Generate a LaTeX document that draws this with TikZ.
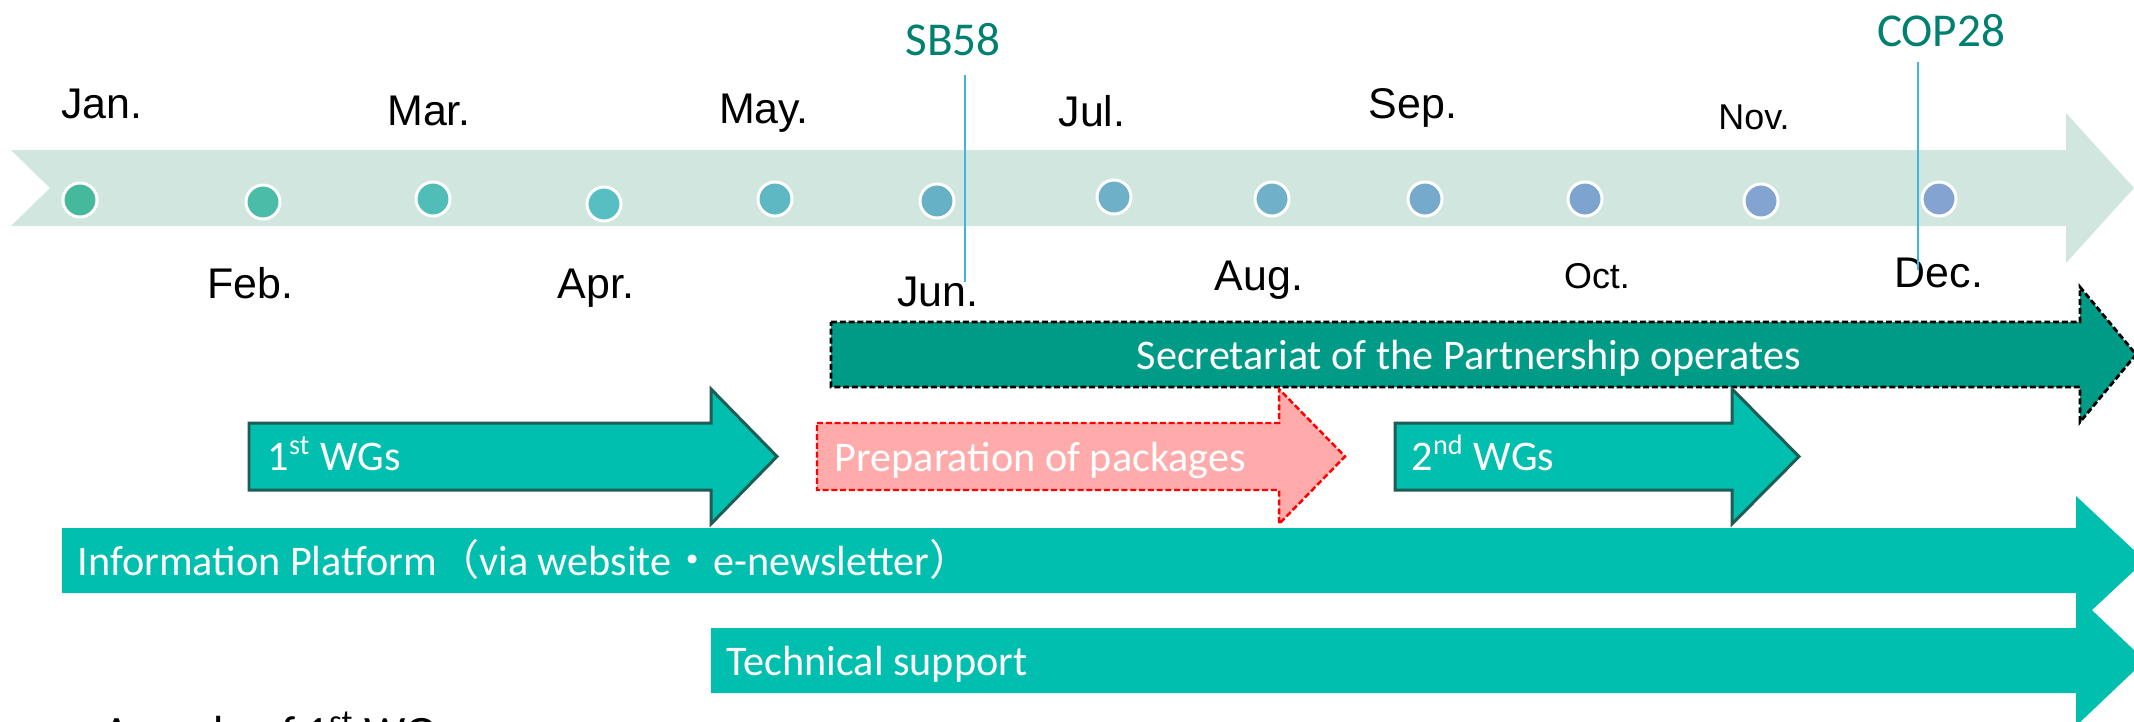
\documentclass[tikz,border=0pt]{standalone}
\usepackage{fontspec}
\setmainfont{Carlito}
\newfontfamily\monthfont{Liberation Sans}
\newfontfamily\cjk{Noto Sans CJK JP}
\usetikzlibrary{positioning,calc}
\definecolor{bandgreen}{RGB}{208,230,222}
\definecolor{secgreen}{RGB}{0,155,135}
\definecolor{wgteal}{RGB}{0,191,174}
\definecolor{wgedge}{RGB}{30,92,86}
\definecolor{preppink}{RGB}{255,171,171}
\definecolor{eventtxt}{RGB}{0,128,110}
\definecolor{eventline}{RGB}{64,180,220}
\tikzset{mdot/.style={circle, draw=white, line width=0.85pt, minimum size=0.34cm, inner sep=0}}
\tikzset{month/.style={inner sep=0, anchor=base, font={\monthfont\fontsize{12.2}{14}\selectfont}}}
\tikzset{monthsm/.style={month, font={\monthfont\fontsize{10.2}{12}\selectfont}}}
\tikzset{event/.style={inner sep=0, anchor=base, text=eventtxt, font={\fontsize{13.4}{15}\selectfont}}}
\tikzset{evline/.style={draw=eventline, line width=0.7pt}}
\tikzset{secbar/.style={fill=secgreen, draw=black, line width=0.8pt, dash pattern=on 1.7pt off 0.8pt}}
\tikzset{wgbar/.style={fill=wgteal, draw=wgedge, line width=0.85pt}}
\tikzset{prepbar/.style={fill=preppink, draw=red, line width=0.7pt, dash pattern=on 1.7pt off 0.8pt}}
\tikzset{platbar/.style={fill=wgteal}}
\tikzset{bartext/.style={inner sep=0, anchor=base west, text=white, font={\fontsize{12}{14}\selectfont}}}
% block arrow: [style] x0, x of head, x of tip, top, bottom, head extension
\newcommand{\garrow}[7][]{%
  \path[#1] (#2,#5) -- (#3,#5) -- (#3,#5-#7) -- (#4,{(#5+#6)/2}) -- (#3,#6+#7) -- (#3,#6) -- (#2,#6) -- cycle;}

\begin{document}
\begin{tikzpicture}[x=0.01cm, y=-0.01cm]
	\useasboundingbox (0,0) rectangle (2134,721);
	\clip (0,0) rectangle (2134,721);
	% timeline band
	\fill[bandgreen] (11,150) -- (2066,150) -- (2066,113) -- (2134,188) -- (2066,263) -- (2066,226) -- (11,226) -- (50,188) -- cycle;
	\foreach \x/\y/\c [count=\i] in {80/200/46B89B, 263/202/4BBCA8, 433/199/50BEB6, 604/204/57BFC1, 775/199/5EB8C4, 937/201/67B1C7, 1114/197/6EB0C8, 1272/199/70B0C8, 1425/199/76AACC, 1585/199/7CA4CE, 1761/201/83A4D0, 1939/199/85A3D0}{
		\definecolor{dotfill}{HTML}{\c}
		\node[mdot, fill=dotfill] (dot\i) at (\x,\y) {};
	}
	% months
	\node[month] (jan) at (102,118) {Jan.};
	\node[month] (feb) at (250,298) {Feb.};
	\node[month] (mar) at (429,125) {Mar.};
	\node[month] (apr) at (596,298) {Apr.};
	\node[month] (may) at (764,123) {May.};
	\node[month] (jun) at (938,306) {Jun.};
	\node[month] (jul) at (1092,126) {Jul.};
	\node[month] (aug) at (1259,290) {Aug.};
	\node[month] (sep) at (1413,118) {Sep.};
	\node[monthsm] (oct) at (1597,288) {Oct.};
	\node[monthsm] (nov) at (1754,129) {Nov.};
	\node[month] (dec) at (1939,287) {Dec.};
	% events
	\node[event] (sb58) at (953,55) {SB58};
	\node[event] (cop28) at (1941,47) {COP28};
	\coordinate (sbtop) at (965,75);
	\coordinate (sbbot) at (965,282);
	\coordinate (coptop) at (1918,62);
	\coordinate (copbot) at (1918,270);
	\draw[evline] (sbtop) -- (sbbot);
	\draw[evline] (coptop) -- (copbot);
	% bars
	\garrow[secbar]{831}{2080}{2136}{322}{387}{35}
	\node[bartext] (sec) at (1136,369) {Secretariat of the Partnership operates};
	\garrow[wgbar]{249}{711}{777}{423}{490}{34}
	\node[bartext] (wg1) at (267,470) {1\textsuperscript{st} WGs};
	\garrow[prepbar]{817}{1279}{1345}{423}{490}{34}
	\node[bartext] (prep) at (834,471) {Preparation of packages};
	\garrow[wgbar]{1395}{1732}{1799}{423}{490}{34}
	\node[bartext] (wg2) at (1411,470) {2\textsuperscript{nd} WGs};
	\garrow[platbar]{62}{2076}{2145}{528}{593}{32}
	\node[bartext] (info) at (77,575) {Information Platform{\cjk （}via website{\cjk ・}e-newsletter{\cjk ）}};
	\garrow[platbar]{711}{2076}{2145}{628}{693}{33}
	\node[bartext] (tech) at (726,675) {Technical support};
	\node[bartext, text=black, font={\fontsize{13.2}{15}\selectfont}] (agenda) at (103,748) {Agenda of 1\textsuperscript{st} WG};
\end{tikzpicture}
\end{document}
